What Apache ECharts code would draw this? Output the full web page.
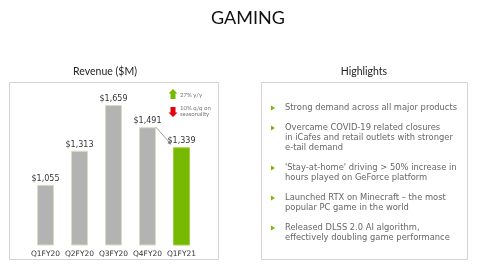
<!DOCTYPE html>
<html><head><meta charset="utf-8">
<script src="https://cdn.jsdelivr.net/npm/echarts@6/dist/echarts.min.js"></script>
<style>html,body{margin:0;padding:0;background:#fff}#c{width:480px;height:270px}</style>
</head><body><div id="c"></div>
<script>
const categories = ['Q1FY20','Q2FY20','Q3FY20','Q4FY20','Q1FY21'];
const revenue = [1055, 1313, 1659, 1491, 1339];
const highlights = [
  ['Strong demand across all major products'],
  ['Overcame COVID-19 related closures','in iCafes and retail outlets with stronger','e-tail demand'],
  ["'Stay-at-home' driving > 50% increase in",'hours played on GeForce platform'],
  ['Launched RTX on Minecraft – the most','popular PC game in the world'],
  ['Released DLSS 2.0 AI algorithm,','effectively doubling game performance']
];
const yoyText = '27% y/y';
const qoqText = ['10% q/q on','seasonality'];

const font = 'Lato, "Liberation Sans", sans-serif';
const hfont = '"DejaVu Sans", sans-serif';
const chart = echarts.init(document.getElementById('c'), null, {renderer:'canvas'});

const hl = [];
let y = 108;
highlights.forEach(lines => {
  hl.push({type:'polygon', shape:{points:[[271,y-2.5],[275,y],[271,y+2.5]]}, style:{fill:'#76b900'}});
  lines.forEach((ln,i) => {
    hl.push({type:'text', x:285, y:y+i*10, style:{text:ln, fill:'#666', font:'8.35px ' + hfont, textVerticalAlign:'middle'}});
  });
  y += lines.length*10 + 10;
});

chart.setOption({
  animation:false,
  backgroundColor:'#fff',
  grid:{left:28.5, right:281.5, top:105, bottom:25},
  xAxis:{type:'category', data:categories, axisLine:{show:false}, axisTick:{show:false},
    axisLabel:{color:'#333', fontSize:7.5, margin:5, interval:0, fontFamily:hfont}},
  yAxis:{type:'value', min:600, max:1659, show:false},
  series:[
    {type:'bar', barWidth:'50%',
     data:revenue.map((v,i)=>({value:v, itemStyle:{color: i===revenue.length-1 ? '#76b900' : '#b3b3b3', borderColor: i===revenue.length-1 ? '#9fd040':'#d3dfc0', borderWidth:1}})),
     label:{show:true, position:'top', distance:2, color:'#333', fontSize:8, fontFamily:hfont,
       formatter:p=>'$'+p.value.toLocaleString('en-US')}},
    {type:'custom', silent:true, z:5,
     data:[[3, revenue[3], 4, revenue[4]]],
     renderItem:(params, api)=>{
       const p1 = api.coord([api.value(0), api.value(1)]);
       const p2 = api.coord([api.value(2), api.value(3)]);
       const hw = api.size([1,0])[0]*0.25;
       const x1 = p1[0]+hw, y1 = p1[1];
       const x2 = p2[0]-hw-2, y2 = p2[1]-3;
       return {type:'group', children:[
         {type:'line', shape:{x1, y1, x2, y2}, style:{stroke:'#777', lineWidth:0.7}},
         {type:'polygon', shape:{points:[[x2,y2],[x2-3.5,y2-1],[x2-1,y2-3.5]]}, style:{fill:'#777'}}
       ]};
     }}
  ],
  graphic:[
    {type:'text', x:248, y:18, style:{text:'GAMING', font:'18px ' + font, fill:'#111', textAlign:'center', textVerticalAlign:'middle'}},
    {type:'text', x:105, y:72, style:{text:'Revenue ($M)', font:'10.5px ' + font, fill:'#222', textAlign:'center', textVerticalAlign:'middle'}},
    {type:'text', x:364, y:72, style:{text:'Highlights', font:'10.5px ' + font, fill:'#222', textAlign:'center', textVerticalAlign:'middle'}},
    {type:'rect', shape:{x:9.5, y:82.5, width:209, height:177}, style:{fill:'none', stroke:'#d4d4d4', lineWidth:1}, z:-1},
    {type:'rect', shape:{x:261.5, y:82.5, width:206, height:177}, style:{fill:'none', stroke:'#d4d4d4', lineWidth:1}, z:-1},
    {type:'polygon', shape:{points:[[173,89],[177.5,93.5],[175.5,93.5],[175.5,99],[170.5,99],[170.5,93.5],[168.5,93.5]]}, style:{fill:'#76b900'}},
    {type:'text', x:180, y:95, style:{text:yoyText, font:'6px ' + font, fill:'#777', textVerticalAlign:'middle'}},
    {type:'polygon', shape:{points:[[173,117],[177.5,112.5],[175.5,112.5],[175.5,107],[170.5,107],[170.5,112.5],[168.5,112.5]]}, style:{fill:'#e3000f'}},
    {type:'text', x:180, y:108.5, style:{text:qoqText[0], font:'6px ' + font, fill:'#777', textVerticalAlign:'middle'}},
    {type:'text', x:180, y:114.5, style:{text:qoqText[1], font:'6px ' + font, fill:'#777', textVerticalAlign:'middle'}},
    ...hl
  ]
});
</script></body></html>
